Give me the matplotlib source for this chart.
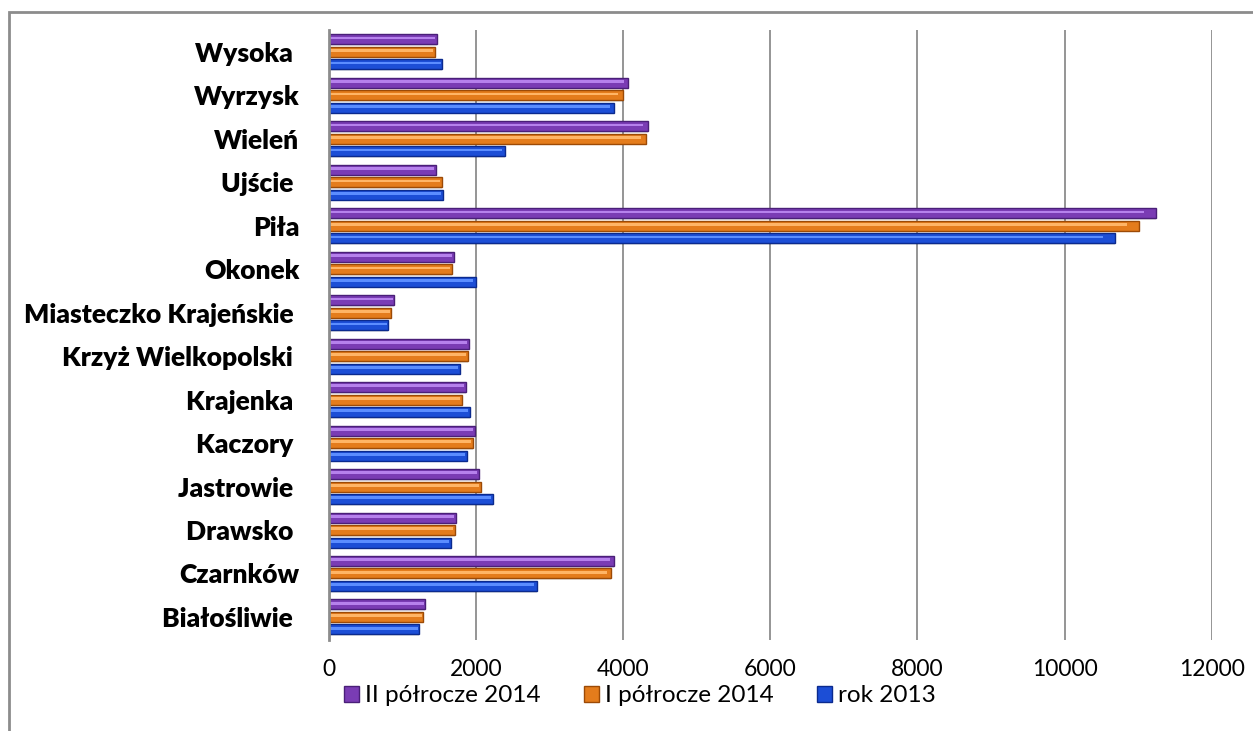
import matplotlib
matplotlib.use("Agg")
import matplotlib.pyplot as plt
from matplotlib.patches import Patch, Rectangle
import numpy as np

categories = ["Białośliwie ", "Czarnków", "Drawsko ", "Jastrowie ", "Kaczory ", "Krajenka ",
              "Krzyż Wielkopolski ", "Miasteczko Krajeńskie ", "Okonek", "Piła", "Ujście ",
              "Wieleń", "Wyrzysk", "Wysoka "]
series_names = ["II półrocze 2014", "I półrocze 2014", "rok 2013"]
ii_polrocze_2014 = [1315, 3883, 1732, 2045, 1995, 1868, 1905, 886, 1701, 11243, 1461, 4337, 4073, 1470]
i_polrocze_2014 = [1288, 3838, 1719, 2077, 1959, 1818, 1895, 849, 1682, 11016, 1542, 4310, 3997, 1447]
rok_2013 = [1230, 2833, 1660, 2235, 1877, 1918, 1791, 813, 2000, 10686, 1556, 2398, 3879, 1546]
xticks = [0, 2000, 4000, 6000, 8000, 10000, 12000]

main_colors = ["#7a3cb4", "#e47c1c", "#1c4ed6"]
light_colors = ["#b681ec", "#ffb566", "#5b8dff"]
edge_colors = ["#4a1f78", "#9c4a06", "#0b2a8e"]

plt.rcParams['font.family'] = ['Lato', 'DejaVu Sans']

fig = plt.figure(figsize=(12.53, 7.31), dpi=100)
ax = fig.add_axes([328.5 / 1253, 1 - 640 / 731, (1211.7 - 328.5) / 1253, 610 / 731])

# outer chart border
fig.patches.append(Rectangle((9 / 1253, -0.1), 1.2, 1 - 12 / 731 + 0.1, transform=fig.transFigure,
                             fill=False, edgecolor="#8c8c8c", linewidth=2.0, zorder=0))

y = np.arange(len(categories))
pitch = 0.2875
h = 0.23
data = [ii_polrocze_2014, i_polrocze_2014, rok_2013]
offsets = [pitch, 0.0, -pitch]

for vals, off, mc, lc, ec in zip(data, offsets, main_colors, light_colors, edge_colors):
    # soft shadow
    ax.barh(y + off - 0.035, vals, height=h, left=0, color="#000000", alpha=0.10,
            linewidth=0, zorder=2)
    # main bar with darker edge
    ax.barh(y + off, vals, height=h, color=mc, edgecolor=ec, linewidth=1.0, zorder=3)
    # bevel highlight stripe
    ax.barh(y + off + h * 0.12, np.array(vals) * 0.985, height=h * 0.28, color=lc,
            linewidth=0, zorder=4)

ax.set_xlim(0, 12000)
ax.set_ylim(-0.53, 13.5)
ax.set_xticks(xticks)
ax.set_xticklabels([str(v) for v in xticks])
ax.set_yticks(y)
ax.set_yticklabels(categories, fontweight="heavy", fontsize=19)
ax.tick_params(axis="y", length=0, pad=21)
ax.tick_params(axis="x", length=0, pad=14, labelsize=16.5)

ax.grid(axis="x", color="#8c8c8c", linewidth=1.3, zorder=0)
ax.set_axisbelow(True)
for s in ["top", "right", "bottom"]:
    ax.spines[s].set_visible(False)
ax.spines["left"].set_color("#8c8c8c")
ax.spines["left"].set_linewidth(2.0)
ax.spines["left"].set_zorder(5)

handles = [Patch(facecolor=mc, edgecolor=ec, linewidth=1.0) for mc, ec in zip(main_colors, edge_colors)]
fig.legend(handles, series_names, loc="center", bbox_to_anchor=(640 / 1253, 1 - 696 / 731),
           ncol=3, frameon=False, fontsize=17.5, handlelength=0.6, handleheight=0.6,
           handletextpad=0.25, columnspacing=1.8, borderaxespad=0, borderpad=0)

fig.savefig("out.png", dpi=100, facecolor="white")
